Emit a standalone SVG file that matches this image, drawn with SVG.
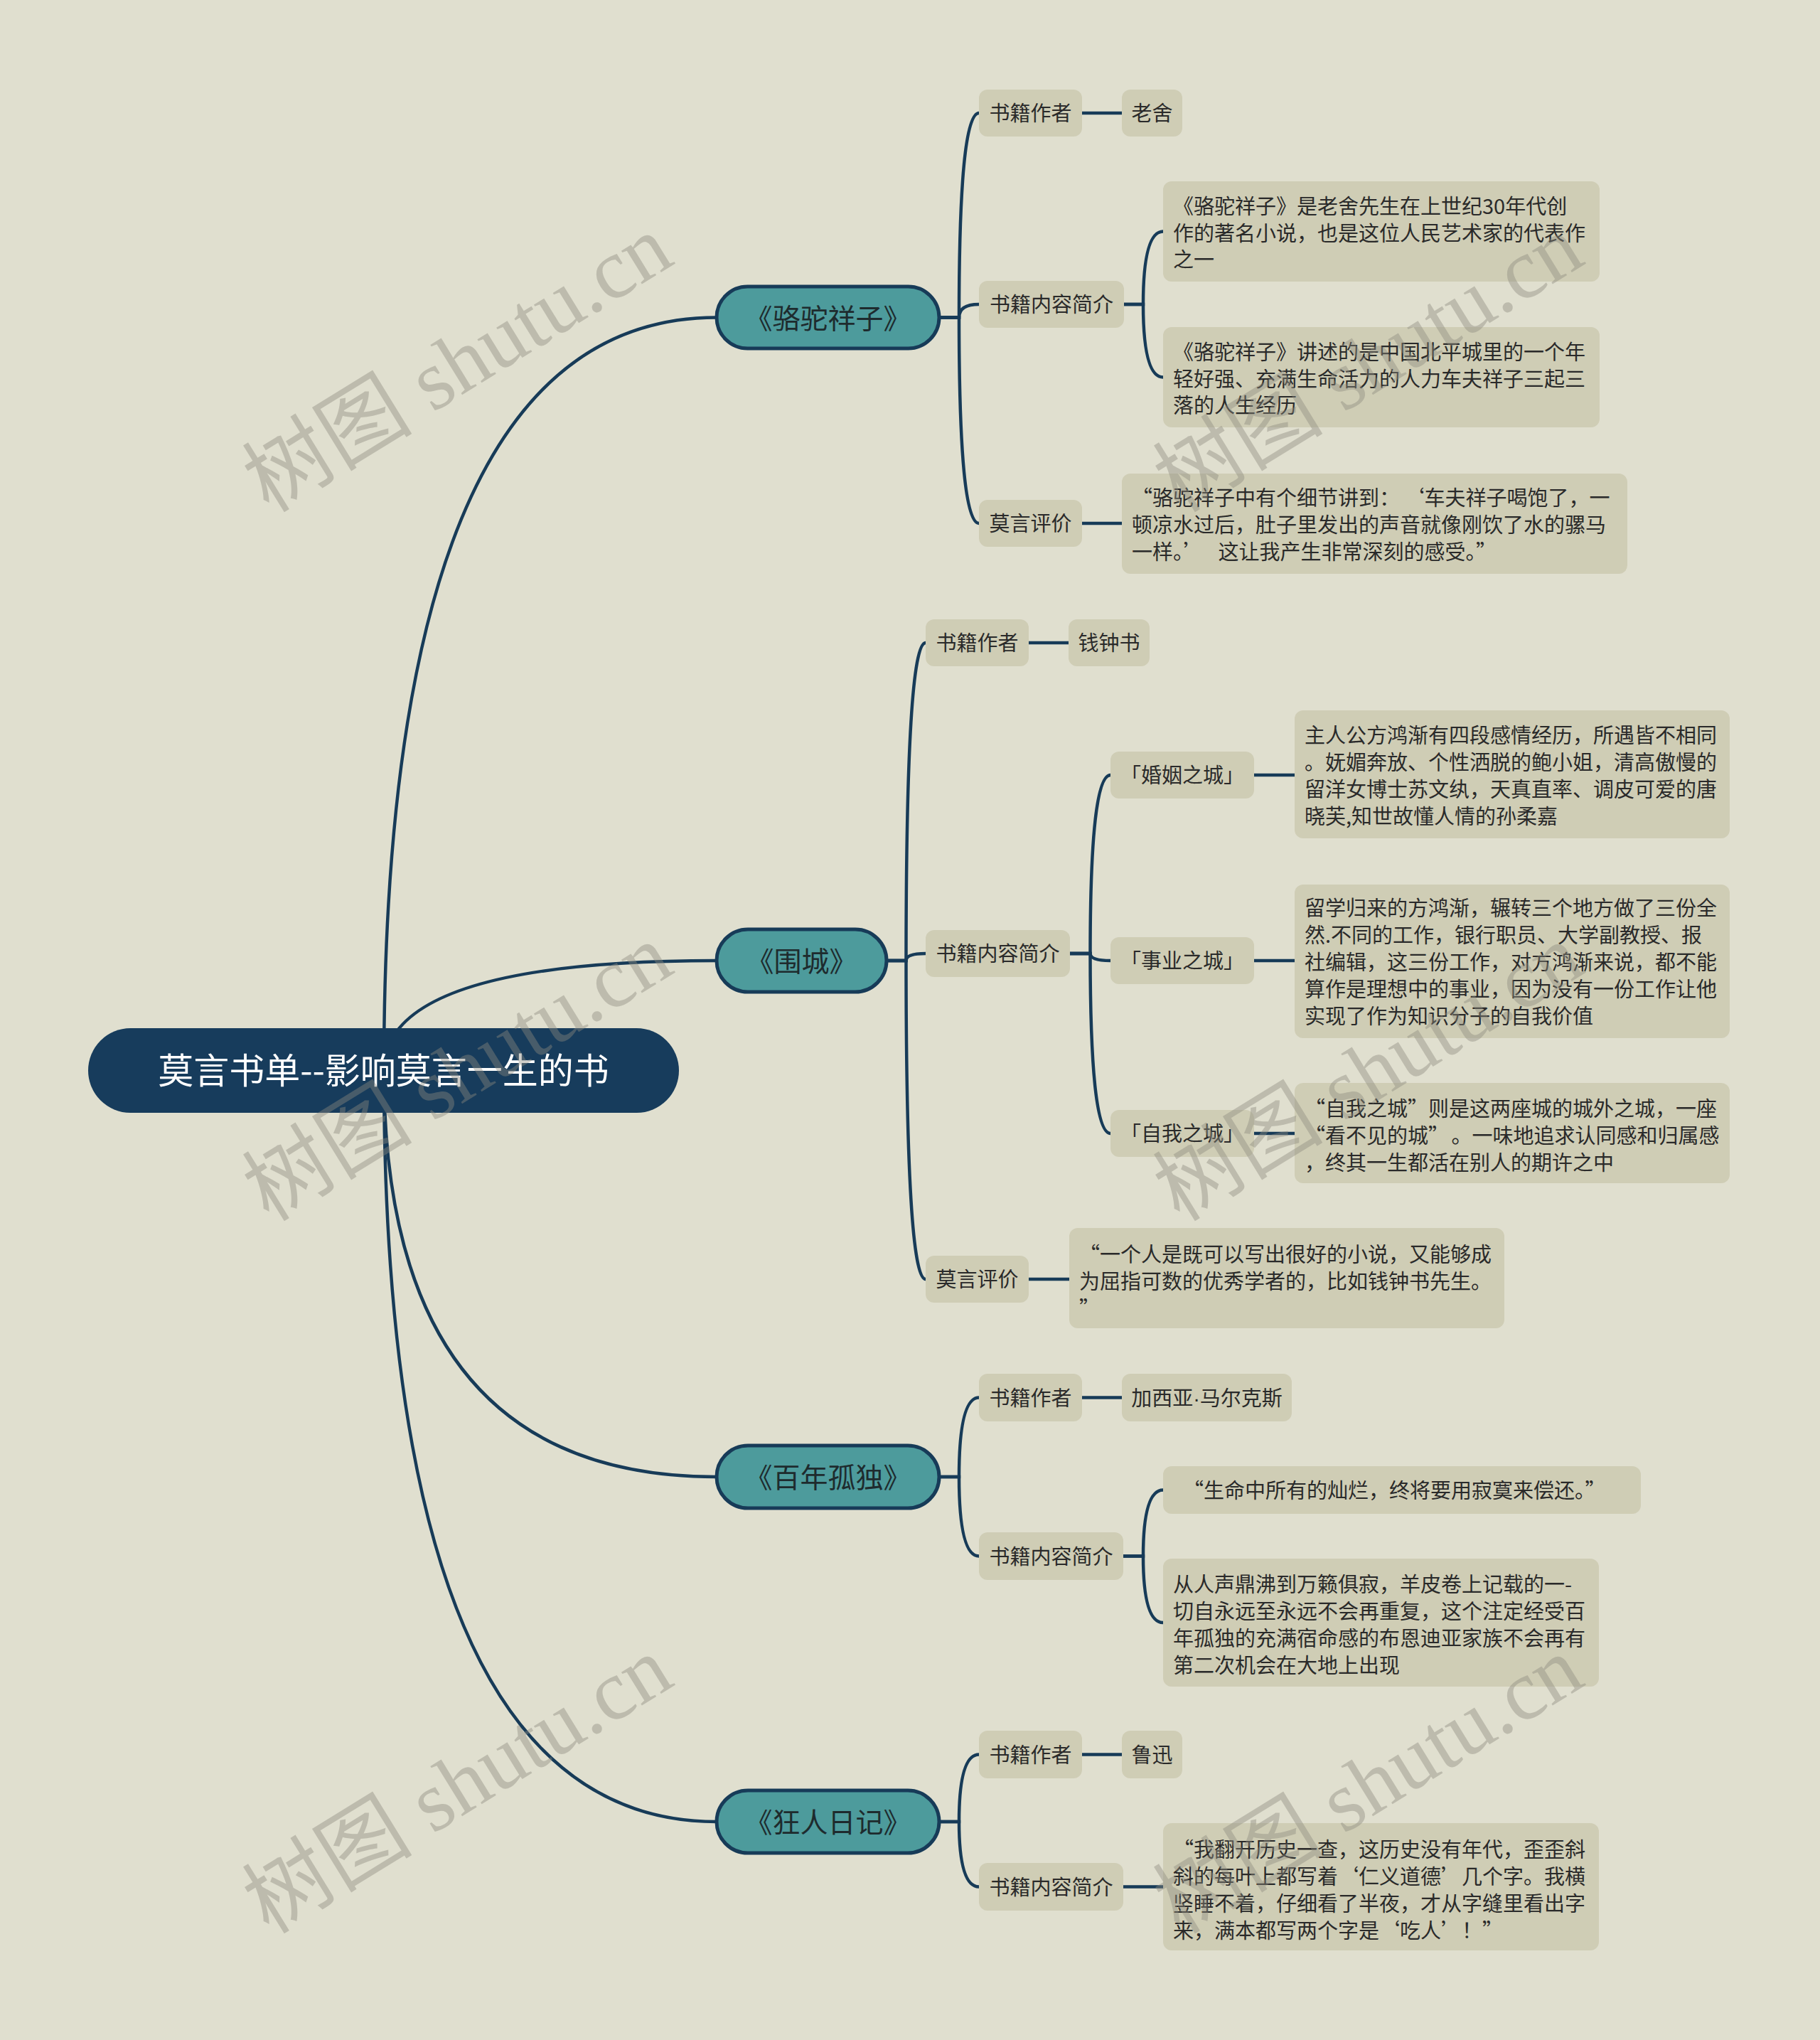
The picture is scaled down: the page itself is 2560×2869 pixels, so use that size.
<svg xmlns="http://www.w3.org/2000/svg" width="2560" height="2869" viewBox="0 0 2560 2869" lang="zh-CN" xml:lang="zh-CN">
<defs>
<style>
.conn path{fill:none;stroke:#173b58;stroke-width:4.5;stroke-linecap:round}
.root rect{fill:#173c5c}
.root text{fill:#ffffff;font-size:50px;text-anchor:middle}
.l1 rect{fill:#4d9b9c;stroke:#173b58;stroke-width:5}
.l1 text{fill:#1e2b2e;font-size:39px;text-anchor:middle}
.box rect{fill:#cfcdb5}
.box text{fill:#2a2a2a;font-size:29px}
.c{text-anchor:middle}
.lat{font-family:"Liberation Sans","Noto Sans CJK SC",sans-serif}
text{font-family:"Noto Sans CJK SC","Liberation Sans",sans-serif}
.wm text{font-family:"Liberation Serif","Noto Sans CJK SC",serif;font-size:120px;fill:#8c8b7f;fill-opacity:0.42;text-anchor:middle}
</style>
</defs>
<rect x="0" y="0" width="2560" height="2869" fill="#e0dfcf"/>

<g id="connectors" class="conn">
<path d="M540 1505 Q540 446.5 1008 446.5"/>
<path d="M540 1505 Q540 1351 1008 1351"/>
<path d="M540 1505 Q540 2077 1008 2077"/>
<path d="M540 1505 Q540 2562 1008 2562"/>

<path d="M1321 446.5 H1349 Q1349 159 1377 159"/>
<path d="M1321 446.5 H1349 Q1349 428 1377 428"/>
<path d="M1321 446.5 H1349 Q1349 736 1377 736"/>
<path d="M1522 159 H1578"/>
<path d="M1581 428 H1608 Q1608 325.5 1636 325.5"/>
<path d="M1581 428 H1608 Q1608 530.5 1636 530.5"/>
<path d="M1522 736 H1578"/>

<path d="M1247 1351 H1274.5 Q1274.5 904 1302 904"/>
<path d="M1247 1351 H1274.5 Q1274.5 1341 1302 1341"/>
<path d="M1247 1351 H1274.5 Q1274.5 1799 1302 1799"/>
<path d="M1447 904 H1503"/>
<path d="M1505 1341 H1533.5 Q1533.5 1090 1562 1090"/>
<path d="M1505 1341 H1533.5 Q1533.5 1351 1562 1351"/>
<path d="M1505 1341 H1533.5 Q1533.5 1594 1562 1594"/>
<path d="M1764 1090 H1821"/>
<path d="M1764 1351 H1821"/>
<path d="M1764 1594 H1821"/>
<path d="M1447 1799 H1504"/>

<path d="M1321 2077 H1349 Q1349 1965.5 1377 1965.5"/>
<path d="M1321 2077 H1349 Q1349 2188.5 1377 2188.5"/>
<path d="M1522 1965.5 H1578"/>
<path d="M1580 2188.5 H1608 Q1608 2095.5 1636 2095.5"/>
<path d="M1580 2188.5 H1608 Q1608 2282 1636 2282"/>

<path d="M1321 2562 H1349 Q1349 2467.5 1377 2467.5"/>
<path d="M1321 2562 H1349 Q1349 2653.5 1377 2653.5"/>
<path d="M1522 2467.5 H1578"/>
<path d="M1580 2653.5 H1636"/>
</g>

<g id="root" class="root">
<rect x="124" y="1446" width="831" height="119" rx="59.5"/>
<text x="539.5" y="1524">莫言书单--影响莫言一生的书</text>
</g>

<g id="book-luotuo" class="l1">
<rect x="1008" y="403" width="313" height="87" rx="43.5"/>
<text x="1164.5" y="461.5">《骆驼祥子》</text>
</g>
<g id="book-weicheng" class="l1">
<rect x="1008" y="1307" width="239" height="88" rx="44"/>
<text x="1127.5" y="1366">《围城》</text>
</g>
<g id="book-bainian" class="l1">
<rect x="1008" y="2033" width="313" height="88" rx="44"/>
<text x="1164.5" y="2092">《百年孤独》</text>
</g>
<g id="book-kuangren" class="l1">
<rect x="1008" y="2518" width="313" height="88" rx="44"/>
<text x="1164.5" y="2577">《狂人日记》</text>
</g>

<!-- 骆驼祥子 -->
<g id="a-author" class="box"><rect x="1377" y="126" width="145" height="66" rx="12"/><text class="c" x="1449.5" y="170">书籍作者</text></g>
<g id="a-author-v" class="box"><rect x="1578" y="126" width="85" height="66" rx="12"/><text class="c" x="1620.5" y="170">老舍</text></g>
<g id="a-intro" class="box"><rect x="1377" y="395" width="204" height="66" rx="12"/><text class="c" x="1479" y="439">书籍内容简介</text></g>
<g id="a-intro-1" class="box"><rect x="1636" y="255" width="614" height="141" rx="12"/>
<text x="1650" y="301">《骆驼祥子》是老舍先生在上世纪30年代创</text>
<text x="1650" y="338.5">作的著名小说，也是这位人民艺术家的代表作</text>
<text x="1650" y="376">之一</text></g>
<g id="a-intro-2" class="box"><rect x="1636" y="460" width="614" height="141" rx="12"/>
<text x="1650" y="506">《骆驼祥子》讲述的是中国北平城里的一个年</text>
<text x="1650" y="543.5">轻好强、充满生命活力的人力车夫祥子三起三</text>
<text x="1650" y="581">落的人生经历</text></g>
<g id="a-review" class="box"><rect x="1377" y="703" width="145" height="66" rx="12"/><text class="c" x="1449.5" y="747">莫言评价</text></g>
<g id="a-review-v" class="box"><rect x="1578" y="666" width="711" height="141" rx="12"/>
<text x="1592" y="711">“骆驼祥子中有个细节讲到：<tspan dx="20">‘</tspan>车夫祥子喝饱了，一</text>
<text x="1592" y="749">顿凉水过后，肚子里发出的声音就像刚饮了水的骡马</text>
<text x="1592" y="787">一样。’<tspan dx="20">这让我产生非常深刻的感受。”</tspan></text></g>

<!-- 围城 -->
<g id="b-author" class="box"><rect x="1302" y="871" width="145" height="66" rx="12"/><text class="c" x="1374.5" y="915">书籍作者</text></g>
<g id="b-author-v" class="box"><rect x="1503" y="871" width="114" height="66" rx="12"/><text class="c" x="1560" y="915">钱钟书</text></g>
<g id="b-intro" class="box"><rect x="1302" y="1308" width="203" height="66" rx="12"/><text class="c" x="1403.5" y="1352">书籍内容简介</text></g>
<g id="b-marriage" class="box"><rect x="1562" y="1057" width="202" height="66" rx="12"/><text class="c" x="1663" y="1101">「婚姻之城」</text></g>
<g id="b-marriage-v" class="box"><rect x="1821" y="999" width="612" height="180" rx="12"/>
<text x="1835" y="1045">主人公方鸿渐有四段感情经历，所遇皆不相同</text>
<text x="1835" y="1083">。妩媚奔放、个性洒脱的鲍小姐，清高傲慢的</text>
<text x="1835" y="1121">留洋女博士苏文纨，天真直率、调皮可爱的唐</text>
<text x="1835" y="1159">晓芙,知世故懂人情的孙柔嘉</text></g>
<g id="b-career" class="box"><rect x="1562" y="1318" width="202" height="66" rx="12"/><text class="c" x="1663" y="1362">「事业之城」</text></g>
<g id="b-career-v" class="box"><rect x="1821" y="1244" width="612" height="216" rx="12"/>
<text x="1835" y="1288">留学归来的方鸿渐，辗转三个地方做了三份全</text>
<text x="1835" y="1326">然.不同的工作，银行职员、大学副教授、报</text>
<text x="1835" y="1364">社编辑，这三份工作，对方鸿渐来说，都不能</text>
<text x="1835" y="1402">算作是理想中的事业，因为没有一份工作让他</text>
<text x="1835" y="1440">实现了作为知识分子的自我价值</text></g>
<g id="b-self" class="box"><rect x="1562" y="1561" width="202" height="66" rx="12"/><text class="c" x="1663" y="1605">「自我之城」</text></g>
<g id="b-self-v" class="box"><rect x="1821" y="1523" width="612" height="141" rx="12"/>
<text x="1835" y="1570">“自我之城”则是这两座城的城外之城，一座</text>
<text x="1835" y="1608">“看不见的城”<tspan dx="18">。一味地追求认同感和归属感</tspan></text>
<text x="1835" y="1646">，终其一生都活在别人的期许之中</text></g>
<g id="b-review" class="box"><rect x="1302" y="1766" width="145" height="66" rx="12"/><text class="c" x="1374.5" y="1810">莫言评价</text></g>
<g id="b-review-v" class="box"><rect x="1504" y="1727" width="612" height="141" rx="12"/>
<text x="1518" y="1775">“一个人是既可以写出很好的小说，又能够成</text>
<text x="1518" y="1813">为屈指可数的优秀学者的，比如钱钟书先生。</text>
<text x="1518" y="1851">”</text></g>

<!-- 百年孤独 -->
<g id="c-author" class="box"><rect x="1377" y="1932" width="145" height="67" rx="12"/><text class="c" x="1449.5" y="1976.5">书籍作者</text></g>
<g id="c-author-v" class="box"><rect x="1578" y="1932" width="239" height="67" rx="12"/><text class="c" x="1697.5" y="1976.5">加西亚<tspan class="lat">·</tspan>马尔克斯</text></g>
<g id="c-intro" class="box"><rect x="1377" y="2155" width="203" height="67" rx="12"/><text class="c" x="1478.5" y="2199.5">书籍内容简介</text></g>
<g id="c-intro-1" class="box"><rect x="1636" y="2062" width="672" height="67" rx="12"/>
<text x="1650" y="2106.5"><tspan dx="14">“</tspan>生命中所有的灿烂，终将要用寂寞来偿还。”</text></g>
<g id="c-intro-2" class="box"><rect x="1636" y="2192" width="613" height="180" rx="12"/>
<text x="1650" y="2239">从人声鼎沸到万籁俱寂，羊皮卷上记载的一-</text>
<text x="1650" y="2277">切自永远至永远不会再重复，这个注定经受百</text>
<text x="1650" y="2315">年孤独的充满宿命感的布恩迪亚家族不会再有</text>
<text x="1650" y="2353">第二次机会在大地上出现</text></g>

<!-- 狂人日记 -->
<g id="d-author" class="box"><rect x="1377" y="2434" width="145" height="67" rx="12"/><text class="c" x="1449.5" y="2478.5">书籍作者</text></g>
<g id="d-author-v" class="box"><rect x="1578" y="2434" width="85" height="67" rx="12"/><text class="c" x="1620.5" y="2478.5">鲁迅</text></g>
<g id="d-intro" class="box"><rect x="1377" y="2620" width="203" height="67" rx="12"/><text class="c" x="1478.5" y="2664.5">书籍内容简介</text></g>
<g id="d-intro-1" class="box"><rect x="1636" y="2564" width="613" height="179" rx="12"/>
<text x="1650" y="2612">“我翻开历史一查，这历史没有年代，歪歪斜</text>
<text x="1650" y="2650">斜的每叶上都写着‘仁义道德’几个字。我横</text>
<text x="1650" y="2688">竖睡不着，仔细看了半夜，才从字缝里看出字</text>
<text x="1650" y="2726">来，满本都写两个字是‘吃人’！”</text></g>

<g id="watermarks" class="wm">
<text transform="translate(644 512) rotate(-31.6)" y="40">树图 shutu.cn</text>
<text transform="translate(1925 512) rotate(-31.6)" y="40">树图 shutu.cn</text>
<text transform="translate(644 1509) rotate(-31.6)" y="40">树图 shutu.cn</text>
<text transform="translate(1925 1509) rotate(-31.6)" y="40">树图 shutu.cn</text>
<text transform="translate(644 2511) rotate(-31.6)" y="40">树图 shutu.cn</text>
<text transform="translate(1925 2511) rotate(-31.6)" y="40">树图 shutu.cn</text>
</g>
</svg>
